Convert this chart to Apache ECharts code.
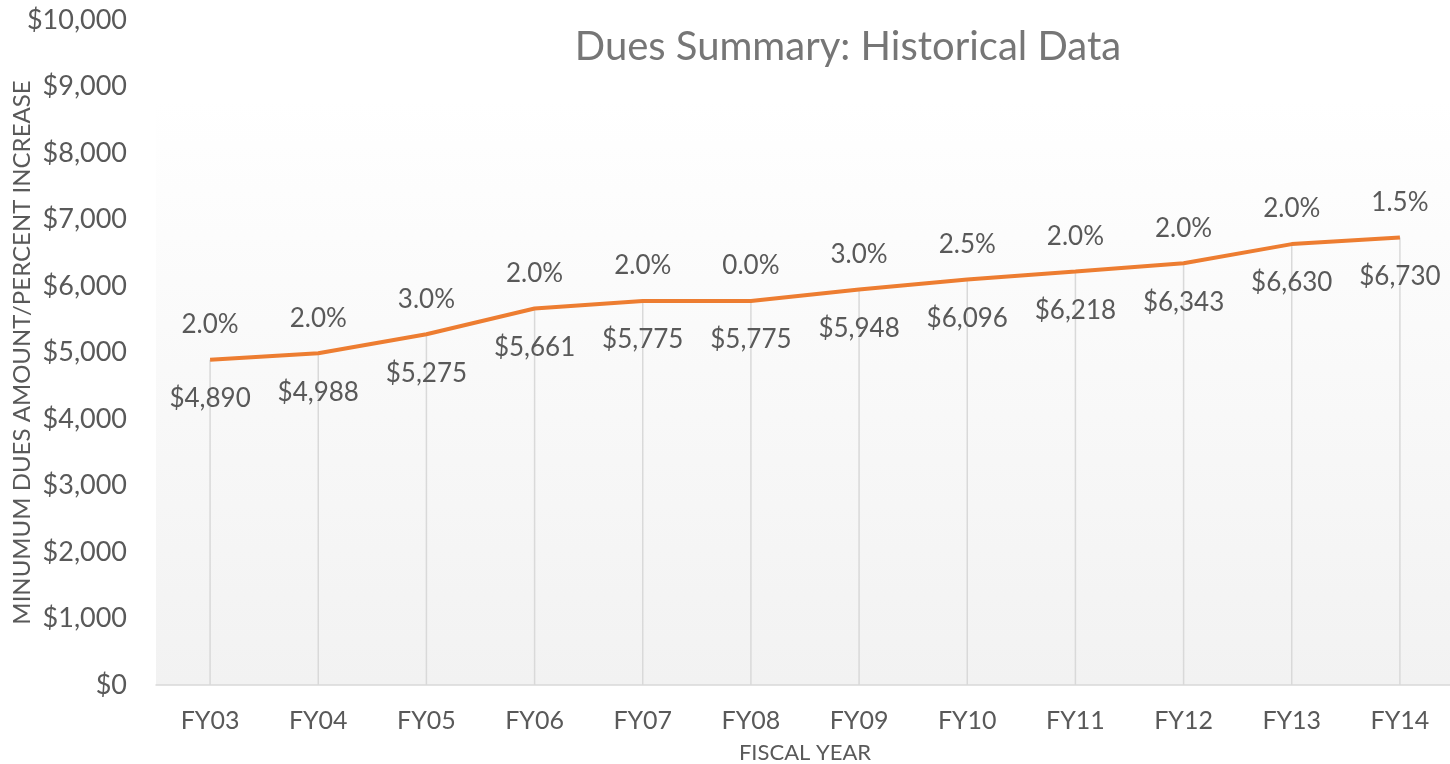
<!DOCTYPE html>
<html>
<head>
<meta charset="utf-8">
<script src="https://cdn.jsdelivr.net/npm/echarts@6/dist/echarts.min.js"></script>
<style>html,body{margin:0;padding:0;background:#fff}#c{width:1450px;height:764px}</style>
</head>
<body>
<div id="c"></div>
<script>
var categories = ['FY03','FY04','FY05','FY06','FY07','FY08','FY09','FY10','FY11','FY12','FY13','FY14'];
var duesValues = [4890, 4988, 5275, 5661, 5775, 5775, 5948, 6096, 6218, 6343, 6630, 6730];
var percentIncrease = ['2.0%','2.0%','3.0%','2.0%','2.0%','0.0%','3.0%','2.5%','2.0%','2.0%','2.0%','1.5%'];
var yTicks = {min: 0, max: 10000, interval: 1000};

var FONT = 'Lato';
var chart = echarts.init(document.getElementById('c'));
chart.setOption({
  animation: false,
  title: {
    text: 'Dues Summary: Historical Data',
    left: 843, top: 22, textAlign: 'center',
    textStyle: {fontFamily: FONT, fontSize: 40, fontWeight: 'normal', color: '#767676'}
  },
  grid: {
    left: 156, right: -4, top: 20, bottom: 79,
    outerBoundsMode: 'none', containLabel: false,
    show: true, borderWidth: 0,
    backgroundColor: {type: 'linear', x: 0, y: 0, x2: 0, y2: 1, colorStops: [
      {offset: 0, color: '#ffffff'}, {offset: 0.12, color: '#ffffff'}, {offset: 1, color: '#f2f2f2'}
    ]}
  },
  xAxis: {
    type: 'category', data: categories, boundaryGap: true,
    name: 'FISCAL YEAR', nameLocation: 'middle', nameGap: 57, nameMoveOverlap: false,
    nameTextStyle: {fontFamily: FONT, fontSize: 22, color: '#595959'},
    axisLine: {lineStyle: {color: '#d9d9d9', width: 1.5}},
    axisTick: {show: false},
    axisLabel: {fontFamily: FONT, fontSize: 25, color: '#595959', margin: 23}
  },
  yAxis: {
    type: 'value', min: yTicks.min, max: yTicks.max, interval: yTicks.interval,
    name: 'MINUMUM DUES AMOUNT/PERCENT INCREASE', nameLocation: 'middle', nameGap: 122, nameMoveOverlap: false,
    nameTextStyle: {fontFamily: FONT, fontSize: 24, color: '#595959'},
    axisLine: {show: false}, axisTick: {show: false}, splitLine: {show: false},
    axisLabel: {fontFamily: FONT, fontSize: 27, color: '#595959', margin: 29,
      formatter: function (v) { return '$' + v.toLocaleString('en-US'); }}
  },
  series: [
    {
      type: 'bar', data: duesValues, barWidth: 1.5, silent: true,
      itemStyle: {color: '#d9d9d9'}, z: 1
    },
    {
      type: 'line', data: duesValues, symbol: 'circle', symbolSize: 0, showSymbol: true, z: 3,
      lineStyle: {color: '#ed7d31', width: 4},
      itemStyle: {color: '#ed7d31'},
      label: {show: true, position: 'top', distance: 22, fontFamily: FONT, fontSize: 26, color: '#595959',
        formatter: function (p) { return percentIncrease[p.dataIndex]; }}
    },
    {
      type: 'line', data: duesValues, symbol: 'circle', symbolSize: 0, showSymbol: true, z: 2,
      lineStyle: {width: 0, opacity: 0},
      label: {show: true, position: 'bottom', distance: 26, fontFamily: FONT, fontSize: 26, color: '#595959',
        formatter: function (p) { return '$' + p.value.toLocaleString('en-US'); }}
    }
  ]
});
</script>
</body>
</html>
